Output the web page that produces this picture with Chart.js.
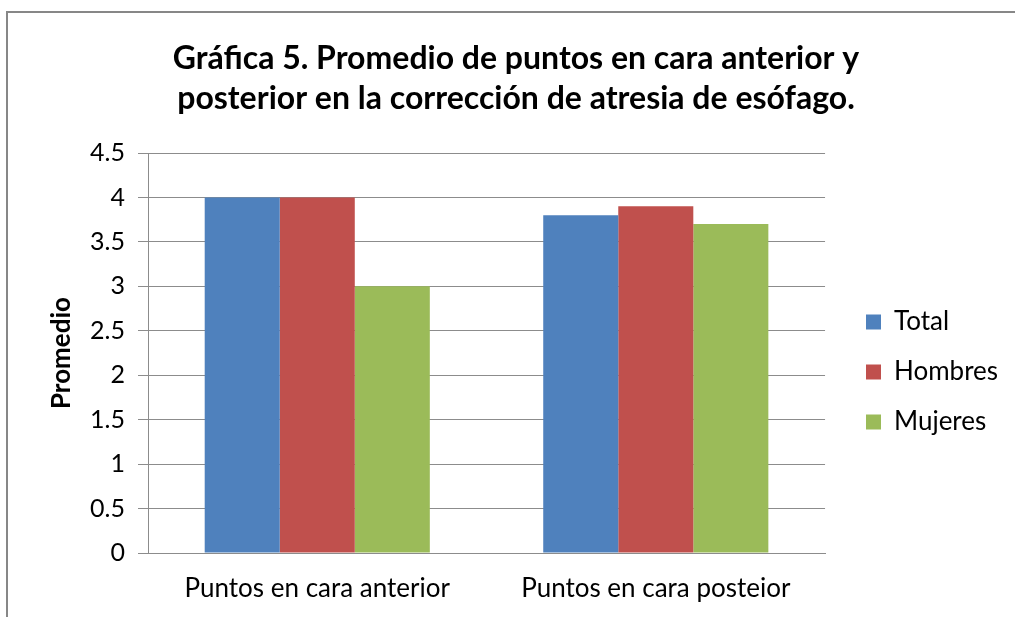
<!DOCTYPE html>
<html>
<head>
<meta charset="utf-8">
<script src="https://cdn.jsdelivr.net/npm/chart.js@4.4.0/dist/chart.umd.min.js"></script>
<style>
  html, body { margin: 0; padding: 0; background: #ffffff; }
  #wrap { position: relative; width: 1015px; height: 617px; overflow: hidden; background: #fff; }
  #frame { position: absolute; left: 6px; top: 11px; width: 1100px; height: 700px;
           border-left: 2px solid #878787; border-top: 2px solid #878787; box-sizing: border-box; }
  canvas { position: absolute; left: 0; top: 0; }
</style>
</head>
<body>
<div id="wrap">
  <div id="frame"></div>
  <canvas id="c" width="1015" height="617"></canvas>
</div>
<script>
const categories = ["Puntos en cara anterior", "Puntos en cara posteior"];
const seriesNames = ["Total", "Hombres", "Mujeres"];
const totalValues = [4.0, 3.8];
const hombresValues = [4.0, 3.9];
const mujeresValues = [3.0, 3.7];
const seriesColors = ["#4F81BD", "#C0504D", "#9BBB59"];
const titleLines = ["Gráfica 5. Promedio de puntos en cara anterior y", "posterior en la corrección de atresia de esófago."];
const yAxisTitle = "Promedio";

const FONT = "Lato";
const legendFontSize = 26;
const legendPadding = 24;
const legendBox = 15;
const padLeft = 27, padRight = 10;

// compute legend width to keep a gap between plot and legend
const mctx = document.createElement('canvas').getContext('2d');
mctx.font = legendFontSize + "px " + FONT;
let maxTw = 0;
seriesNames.forEach(n => { maxTw = Math.max(maxTw, mctx.measureText(n).width); });
const legendWidth = legendPadding + legendBox + legendFontSize / 2 + maxTw + 10;
const plotRight = 822;
const gapW = Math.max(0, 1015 - padRight - plotRight - legendWidth);

const datasets = [totalValues, hombresValues, mujeresValues].map((vals, i) => ({
  label: seriesNames[i],
  data: vals,
  backgroundColor: seriesColors[i],
  borderWidth: 0,
  yAxisID: 'y'
}));

new Chart(document.getElementById('c'), {
  type: 'bar',
  data: { labels: categories, datasets },
  options: {
    responsive: false,
    animation: false,
    devicePixelRatio: 1,
    layout: { padding: { left: padLeft, right: padRight, top: 0, bottom: 0 } },
    datasets: { bar: { barPercentage: 1.0, categoryPercentage: 0.665 } },
    plugins: {
      title: {
        display: true,
        text: titleLines,
        color: '#000',
        font: { family: FONT, size: 32, weight: 'bold', lineHeight: 40 / 32 },
        padding: { top: 39, bottom: 34 }
      },
      legend: {
        position: 'right',
        align: 'center',
        title: { display: true, text: ' ', font: { family: FONT, size: 10, lineHeight: 1.2 },
                 padding: { top: 115, bottom: 0 } },
        labels: {
          color: '#000',
          font: { family: FONT, size: legendFontSize },
          boxWidth: legendBox,
          boxHeight: legendBox,
          padding: legendPadding
        }
      },
      tooltip: { enabled: false }
    },
    scales: {
      x: {
        clip: false,
        grid: { display: false, drawTicks: false },
        border: { display: true, color: '#8c8c8c', width: 1 },
        ticks: { color: '#000', font: { family: FONT, size: 26 }, padding: 20, maxRotation: 0 },
        afterFit(s) { s.height = 64; }
      },
      y: {
        min: 0, max: 4.5,
        ticks: { stepSize: 0.5, color: '#000', font: { family: FONT, size: 25 }, padding: 13,
                 callback: v => String(v) },
        grid: { color: '#8c8c8c', lineWidth: 1, tickLength: 10, drawTicks: true },
        border: { display: true, color: '#8c8c8c', width: 1 },
        title: { display: true, text: yAxisTitle, color: '#000',
                 font: { family: FONT, size: 26, weight: 'bold', lineHeight: 1.2 },
                 padding: { top: 19, bottom: 0 } },
        afterFit(s) { s.width = 148 - padLeft; }
      },
      gap: {
        type: 'linear', position: 'right', display: true,
        grid: { display: false, drawTicks: false },
        border: { display: false },
        ticks: { display: false },
        afterFit(s) { s.width = gapW; }
      }
    }
  }
});
</script>
</body>
</html>
